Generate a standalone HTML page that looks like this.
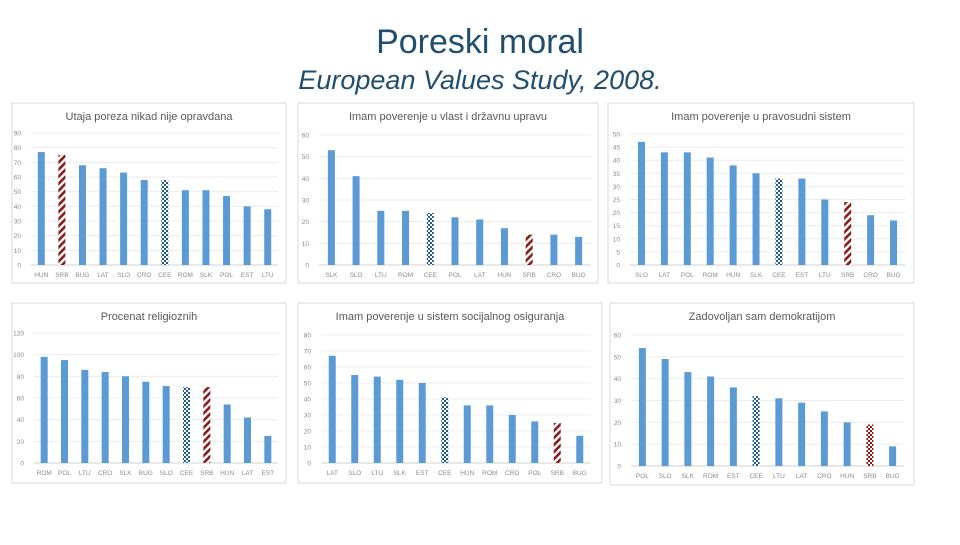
<!DOCTYPE html>
<html><head><meta charset="utf-8"><style>
body{margin:0;background:#fff;width:960px;height:540px;overflow:hidden;font-family:"Liberation Sans",sans-serif}
</style></head><body>
<svg id="s" width="960" height="540" xmlns="http://www.w3.org/2000/svg">
<defs>
<pattern id="hatch" width="5" height="5" patternUnits="userSpaceOnUse" patternTransform="rotate(45)"><rect width="5" height="5" fill="#fff"/><rect width="2.6" height="5" fill="#8b1a1a"/></pattern>
<pattern id="checkB" width="4" height="4" patternUnits="userSpaceOnUse"><rect width="4" height="4" fill="#fff"/><rect width="2" height="2" fill="#1f5a96"/><rect x="2" y="2" width="2" height="2" fill="#1f5a96"/></pattern>
<pattern id="checkR" width="4" height="4" patternUnits="userSpaceOnUse"><rect width="4" height="4" fill="#fff"/><rect width="2" height="2" fill="#9b1010"/><rect x="2" y="2" width="2" height="2" fill="#9b1010"/></pattern>
</defs>
<text x="480" y="53" text-anchor="middle" font-size="34" fill="#1f4e6e">Poreski moral</text>
<text x="480" y="89" text-anchor="middle" font-size="27" font-style="italic" fill="#1f4e6e">European Values Study, 2008.</text>
</svg>
<script>
const c1Cats=["HUN","SRB","BUG","LAT","SLO","CRO","CEE","ROM","SLK","POL","EST","LTU"];
const c1Vals=[77,75,68,66,63,58,58,51,51,47,40,38];
const c1Ticks=[0,10,20,30,40,50,60,70,80,90];
const c2Cats=["SLK","SLO","LTU","ROM","CEE","POL","LAT","HUN","SRB","CRO","BUG"];
const c2Vals=[53,41,25,25,24,22,21,17,14,14,13];
const c2Ticks=[0,10,20,30,40,50,60];
const c3Cats=["SLO","LAT","POL","ROM","HUN","SLK","CEE","EST","LTU","SRB","CRO","BUG"];
const c3Vals=[47,43,43,41,38,35,33,33,25,24,19,17];
const c3Ticks=[0,5,10,15,20,25,30,35,40,45,50];
const c4Cats=["ROM","POL","LTU","CRO","SLK","BUG","SLO","CEE","SRB","HUN","LAT","EST"];
const c4Vals=[98,95,86,84,80,75,71,70,70,54,42,25];
const c4Ticks=[0,20,40,60,80,100,120];
const c5Cats=["LAT","SLO","LTU","SLK","EST","CEE","HUN","ROM","CRO","POL","SRB","BUG"];
const c5Vals=[67,55,54,52,50,41,36,36,30,26,25,17];
const c5Ticks=[0,10,20,30,40,50,60,70,80];
const c6Cats=["POL","SLO","SLK","ROM","EST","CEE","LTU","LAT","CRO","HUN","SRB","BUG"];
const c6Vals=[54,49,43,41,36,32,31,29,25,20,19,9];
const c6Ticks=[0,10,20,30,40,50,60];

const NS="http://www.w3.org/2000/svg";
const svg=document.getElementById('s');
function mk(t,a,p){const e=document.createElementNS(NS,t);for(const k in a)e.setAttribute(k,a[k]);(p||svg).appendChild(e);return e;}
function chart(id,title,cats,vals,ticks,box,plot,srbFill){
  const g=mk('g',{});
  
  
  const fr=mk('rect',{x:box[0],y:box[1],width:box[2],height:box[3],fill:'#fff',stroke:'#d9d9d9','stroke-width':1},g);
  
  
  const tt=mk('text',{x:box[0]+box[2]/2,y:box[1]+17,'text-anchor':'middle','font-size':11,fill:'#595959'},g);
  tt.textContent=title;
  
  
  const [L,R,Y0,Y1]=plot; const max=ticks[ticks.length-1];
  const y=v=>Y0-(v/max)*(Y0-Y1);
  const step=(R-L)/cats.length;
  const x=i=>L+step*(i+0.5);
  ticks.forEach(t=>{
    const ln=mk('line',{x1:L,x2:R,y1:y(t),y2:y(t),stroke:t===0?'#d0d0d0':'#ececec','stroke-width':1},g);
    
    
    const tx=mk('text',{x:L-10,y:y(t)+2.5,'text-anchor':'end','font-size':6.5,fill:'#8c8c8c'},g);
    tx.textContent=t;
    
    
  });
  cats.forEach((c,i)=>{
    let fill='#5b9bd5';
    if(c==='SRB')fill=srbFill; else if(c==='CEE')fill='url(#checkB)';
    const b=mk('rect',{x:x(i)-3.5,y:y(vals[i]),width:7,height:Y0-y(vals[i]),fill:fill},g);
    
    
    const tx=mk('text',{x:x(i),y:Y0+12,'text-anchor':'middle','font-size':6.5,fill:'#8c8c8c'},g);
    tx.textContent=c;
    
    
  });
}
chart('chart-tax-evasion','Utaja poreza nikad nije opravdana',c1Cats,c1Vals,c1Ticks,[12,103,274,180],[31,278,265,133],'url(#hatch)');
chart('chart-trust-government','Imam poverenje u vlast i državnu upravu',c2Cats,c2Vals,c2Ticks,[298,103,300,180],[319,591,265,135],'url(#hatch)');
chart('chart-trust-judiciary','Imam poverenje u pravosudni sistem',c3Cats,c3Vals,c3Ticks,[608,103,306,180],[630,905,265,134],'url(#hatch)');
chart('chart-religiosity','Procenat religioznih',c4Cats,c4Vals,c4Ticks,[12,303,274,180],[34,278,463,333],'url(#hatch)');
chart('chart-trust-social-insurance','Imam poverenje u sistem socijalnog osiguranja',c5Cats,c5Vals,c5Ticks,[298,303,304,180],[321,591,463,335],'url(#hatch)');
chart('chart-democracy-satisfaction','Zadovoljan sam demokratijom',c6Cats,c6Vals,c6Ticks,[610,303,304,182],[631,904,466,335],'url(#checkR)');
</script>
</body></html>
